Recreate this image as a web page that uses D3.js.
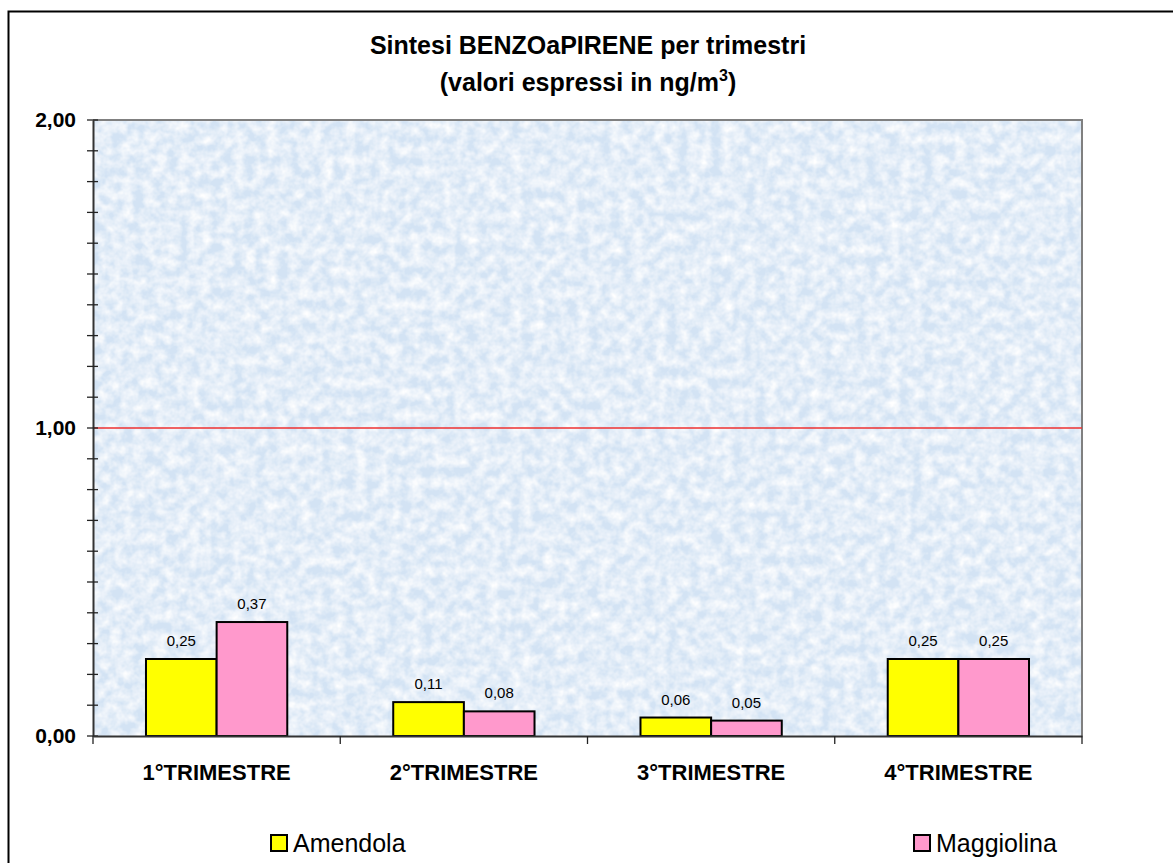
<!DOCTYPE html>
<html>
<head>
<meta charset="utf-8">
<script src="https://cdn.jsdelivr.net/npm/d3@7"></script>
<style>
  body { margin: 0; background: #fff; }
  svg { display: block; font-family: Arial, "Liberation Sans", sans-serif; }
</style>
</head>
<body>
<script>
(function() {

    const width = 1173;
    const height = 863;

    // chart data
    const categories = ["1°TRIMESTRE", "2°TRIMESTRE", "3°TRIMESTRE", "4°TRIMESTRE"];
    const seriesNames = ["Amendola", "Maggiolina"];
    const amendola = [0.25, 0.11, 0.06, 0.25];
    const maggiolina = [0.37, 0.08, 0.05, 0.25];
    const seriesColors = ["#ffff00", "#ff99cc"];
    const majorTicks = [0, 1, 2];
    const minorTicks = d3.range(0, 21).map(i => i / 10);
    const limitValue = 1;

    const plot = {left: 93, top: 120, right: 1082, bottom: 736};

    const fmt = v => d3.format(".2f")(v).replace(".", ",");

    let svg = d3.select("body").append("svg")
        .attr("width", width)
        .attr("height", height);

    // marble-like texture for the plot area
    let defs = svg.append("defs");
    let filter = defs.append("filter")
        .attr("id", "marble")
        .attr("x", 0).attr("y", 0).attr("width", 1).attr("height", 1);
    filter.append("feTurbulence")
        .attr("type", "fractalNoise")
        .attr("baseFrequency", "0.09")
        .attr("numOctaves", 3)
        .attr("seed", 11)
        .attr("result", "noise");
    filter.append("feColorMatrix")
        .attr("in", "noise")
        .attr("type", "matrix")
        .attr("values", "0 0 0 0 1  0 0 0 0 1  0 0 0 0 1  1.6 0 0 0 -0.45")
        .attr("result", "white");
    filter.append("feComposite")
        .attr("in", "white")
        .attr("in2", "SourceGraphic")
        .attr("operator", "over");

    // outer frame
    svg.append("rect")
        .attr("x", 8.5)
        .attr("y", 11.5)
        .attr("width", 1300)
        .attr("height", 1000)
        .attr("fill", "#fff")
        .attr("stroke", "#000")
        .attr("stroke-width", 2);

    // title
    let title = svg.append("text")
        .attr("text-anchor", "middle")
        .attr("font-weight", "bold")
        .attr("font-size", 25)
        .attr("fill", "#000");
    title.append("tspan").attr("x", 588).attr("y", 54).text("Sintesi BENZOaPIRENE per trimestri");
    let t2 = title.append("tspan").attr("x", 588).attr("y", 91).text("(valori espressi in ng/m");
    t2.append("tspan").attr("font-size", 16).attr("dy", -10).text("3");
    t2.append("tspan").attr("dy", 10).text(")");

    // scales
    let x = d3.scaleBand()
        .domain(categories)
        .range([plot.left, plot.right]);

    let xInner = d3.scaleBand()
        .domain(seriesNames)
        .range([0, x.bandwidth()])
        .paddingOuter(0.75);

    let y = d3.scaleLinear()
        .domain([0, 2])
        .range([plot.bottom, plot.top]);

    // plot background
    svg.append("rect")
        .attr("x", plot.left)
        .attr("y", plot.top)
        .attr("width", plot.right - plot.left)
        .attr("height", plot.bottom - plot.top)
        .attr("fill", "#d3e3f4")
        .attr("filter", "url(#marble)");

    // plot frame top + right
    svg.append("path")
        .attr("d", `M${plot.left},${plot.top}H${plot.right}V${plot.bottom}`)
        .attr("fill", "none")
        .attr("stroke", "#808080")
        .attr("stroke-width", 2);

    // limit line
    svg.append("line")
        .attr("x1", plot.left)
        .attr("x2", plot.right)
        .attr("y1", y(limitValue))
        .attr("y2", y(limitValue))
        .attr("stroke", "#ee3030")
        .attr("stroke-width", 1.5);

    // bars
    let rows = categories.map((c, i) => ({cat: c, values: [amendola[i], maggiolina[i]]}));

    let groups = svg.selectAll(".cat")
        .data(rows)
        .enter()
        .append("g")
        .attr("class", "cat")
        .attr("transform", d => "translate(" + x(d.cat) + ",0)");

    let bars = groups.selectAll(".bar")
        .data(d => d.values.map((v, j) => ({name: seriesNames[j], value: v, j: j})))
        .enter();

    bars.append("rect")
        .attr("x", d => xInner(d.name))
        .attr("y", d => y(d.value))
        .attr("width", xInner.bandwidth())
        .attr("height", d => y(0) - y(d.value))
        .attr("fill", d => seriesColors[d.j])
        .attr("stroke", "#000")
        .attr("stroke-width", 2);

    bars.append("text")
        .attr("x", d => xInner(d.name) + xInner.bandwidth() / 2)
        .attr("y", d => y(d.value) - 13)
        .attr("text-anchor", "middle")
        .attr("font-size", 15)
        .attr("fill", "#000")
        .text(d => fmt(d.value));

    // y axis
    let yAxis = svg.append("g")
        .attr("transform", "translate(" + plot.left + ",0)")
        .call(d3.axisLeft(y).tickValues(majorTicks).tickFormat(fmt).tickSize(0).tickPadding(17));
    yAxis.select(".domain").attr("stroke", "#333").attr("stroke-width", 2);
    yAxis.selectAll("text")
        .attr("font-size", 21)
        .attr("font-weight", "bold")
        .attr("font-family", "Arial, 'Liberation Sans', sans-serif")
        .attr("fill", "#000");

    svg.append("g")
        .selectAll("line")
        .data(minorTicks)
        .enter()
        .append("line")
        .attr("x1", plot.left - 6)
        .attr("x2", plot.left + 5)
        .attr("y1", d => y(d))
        .attr("y2", d => y(d))
        .attr("stroke", "#222")
        .attr("stroke-width", 1.3);

    // x axis
    let xAxis = svg.append("g")
        .attr("transform", "translate(0," + plot.bottom + ")")
        .call(d3.axisBottom(x).tickSize(0).tickPadding(28));
    xAxis.select(".domain").attr("stroke", "#333").attr("stroke-width", 2);
    xAxis.selectAll("text")
        .attr("font-size", 22)
        .attr("font-weight", "bold")
        .attr("font-family", "Arial, 'Liberation Sans', sans-serif")
        .attr("fill", "#000");

    let bounds = categories.map(c => x(c)).concat([plot.right]);
    svg.append("g")
        .selectAll("line")
        .data(bounds)
        .enter()
        .append("line")
        .attr("x1", d => d)
        .attr("x2", d => d)
        .attr("y1", plot.bottom)
        .attr("y2", plot.bottom + 8)
        .attr("stroke", "#222")
        .attr("stroke-width", 1.3);

    // legend
    let legendX = [270, 913];
    let legend = svg.selectAll(".legend")
        .data(seriesNames)
        .enter()
        .append("g")
        .attr("class", "legend")
        .attr("transform", (d, i) => "translate(" + legendX[i] + ",834)");

    legend.append("rect")
        .attr("x", 1)
        .attr("y", 1)
        .attr("width", 16)
        .attr("height", 16)
        .attr("fill", (d, i) => seriesColors[i])
        .attr("stroke", "#000")
        .attr("stroke-width", 2);

    legend.append("text")
        .attr("x", 23)
        .attr("y", 18)
        .attr("font-size", 25)
        .attr("fill", "#000")
        .text(d => d);

})();
</script>
</body>
</html>
